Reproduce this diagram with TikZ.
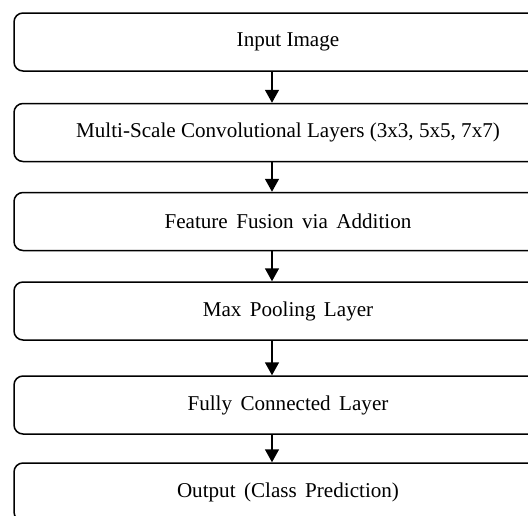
\documentclass[tikz,border=0pt]{standalone}
\usepackage{fontspec}
\setmainfont{Liberation Serif}
\usepackage{tikz}
\usetikzlibrary{arrows.meta}
\tikzstyle{layer}=[draw=black,line width=1.5pt,rounded corners=9pt,minimum width=548pt,minimum height=58pt,inner sep=0pt,font=\fontsize{21.1}{24}\selectfont]
\tikzstyle{e}=[line width=1.5pt,arrows={-{Triangle[width=14pt,length=13pt]}}]
\newcommand{\gap}{\hspace{0.4em}}

\begin{document}
\begin{tikzpicture}[x=1pt,y=-1pt]
\useasboundingbox (0,0) rectangle (528,515);
\clip (0,0) rectangle (528,515);

% Nodes
\node[layer] (input)   at (288, 42)  {Input Image};
\node[layer] (conv)    at (288, 132.5) {Multi-Scale Convolutional Layers (3x3, 5x5, 7x7)};
\node[layer] (fusion)  at (288, 221.5) {Feature\gap Fusion\gap via\gap Addition};
\node[layer] (pool)    at (288, 311) {Max\gap Pooling\gap Layer};
\node[layer] (fc)      at (288, 405) {Fully\gap Connected\gap Layer};
\node[layer] (output)  at (288, 492) {Output\gap (Class\gap Prediction)};
\coordinate (axis) at (272, 0);

% Edges
\draw[e] (input.south -| axis)  -- (conv.north -| axis);
\draw[e] (conv.south -| axis)   -- (fusion.north -| axis);
\draw[e] (fusion.south -| axis) -- (pool.north -| axis);
\draw[e] (pool.south -| axis)   -- (fc.north -| axis);
\draw[e] (fc.south -| axis)     -- (output.north -| axis);

\end{tikzpicture}
\end{document}
